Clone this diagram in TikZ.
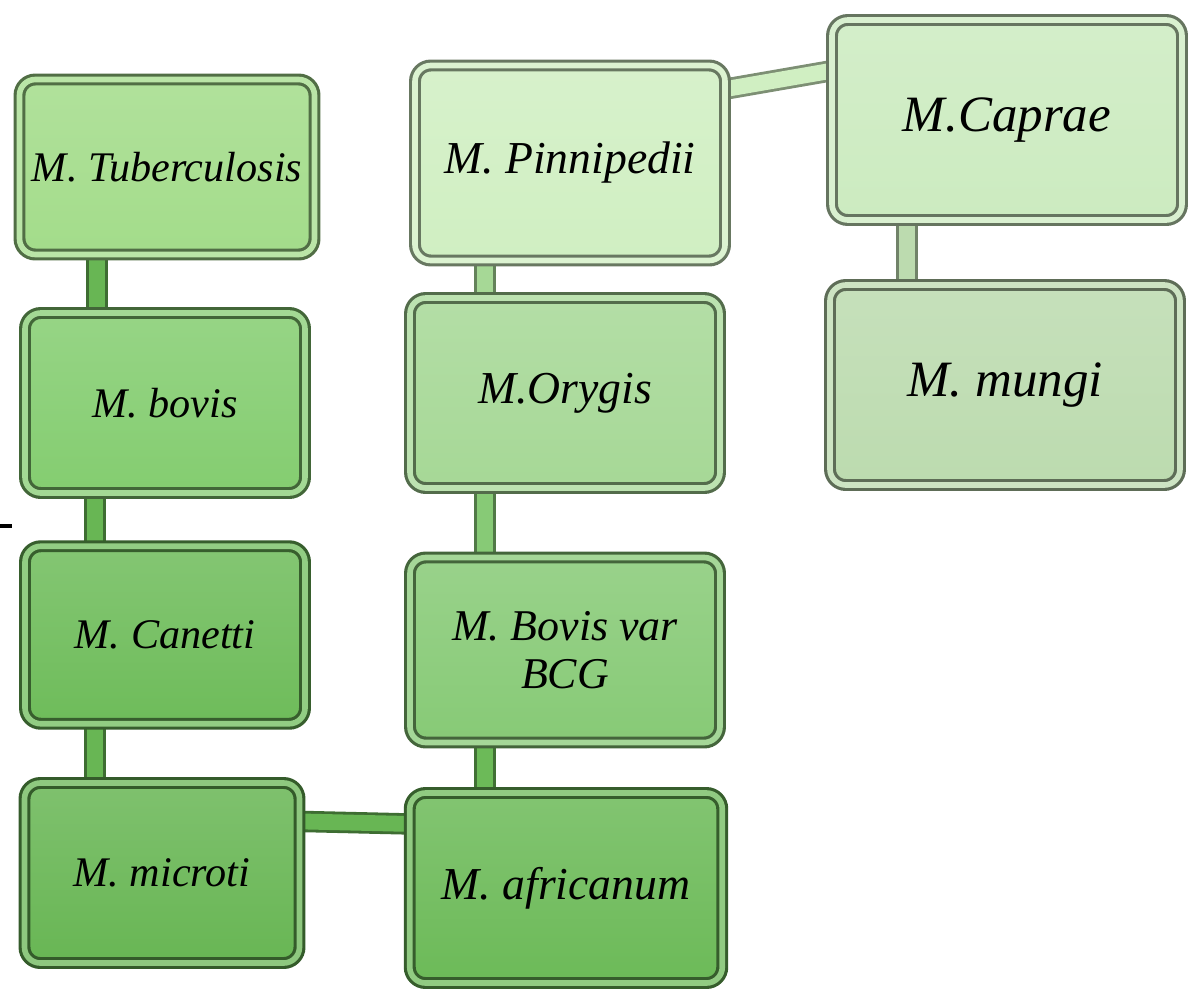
\documentclass[tikz,border=0pt]{standalone}
\usepackage{fontspec}
\setmainfont{Liberation Serif}
\usetikzlibrary{backgrounds}

\definecolor{tbgreen}{HTML}{A3DC8A}
\definecolor{bovgreen}{HTML}{84CD70}
\definecolor{cangreen}{HTML}{6EBC5A}
\definecolor{micgreen}{HTML}{68B654}
\definecolor{pingreen}{HTML}{D0EFC2}
\definecolor{orygreen}{HTML}{A6D896}
\definecolor{bcggreen}{HTML}{87CA76}
\definecolor{afrgreen}{HTML}{6CBA58}
\definecolor{capgreen}{HTML}{CCEBC0}
\definecolor{mungreen}{HTML}{BCDBAF}

\begin{document}
\begin{tikzpicture}[
	species/.style = {rectangle, rounded corners=9pt, align=center, inner sep=4pt,
		font=\fontsize{24}{28}\selectfont\itshape, line width=1.8pt, double distance=3.2pt},
	tone/.style = {top color=#1!85, bottom color=#1, draw=#1!50!black, double=#1!75!white},
	link/.style = {line width=1.6pt, double distance=9pt, draw=#1!60!black, double=#1},
]
\useasboundingbox (0,0) rectangle (23.82,-19.86);

% left column
\node[species, tone=tbgreen, minimum width=5.9cm, minimum height=3.5cm] (tb) at (3.34,-3.34) {M. Tuberculosis};
\node[species, tone=bovgreen, minimum width=5.6cm, minimum height=3.6cm] (bov) at (3.30,-8.06) {M. bovis};
\node[species, tone=cangreen, minimum width=5.6cm, minimum height=3.55cm] (can) at (3.30,-12.70) {M. Canetti};
\node[species, tone=micgreen, minimum width=5.5cm, minimum height=3.6cm] (mic) at (3.24,-17.46) {M. microti};

% middle column
\node[species, tone=pingreen, minimum width=6.2cm, minimum height=3.9cm,
	font=\fontsize{26}{30}\selectfont\itshape] (pin) at (11.40,-3.26) {M. Pinnipedii};
\node[species, tone=orygreen, minimum width=6.2cm, minimum height=3.8cm,
	font=\fontsize{26}{30}\selectfont\itshape] (ory) at (11.30,-7.86) {M.Orygis};
\node[species, tone=bcggreen, minimum width=6.2cm, minimum height=3.7cm,
	font=\fontsize{25}{27}\selectfont\itshape] (bcg) at (11.30,-13.00) {M. Bovis var\\BCG};
\node[species, tone=afrgreen, minimum width=6.25cm, minimum height=3.8cm,
	font=\fontsize{26}{30}\selectfont\itshape] (afr) at (11.32,-17.76) {M. africanum};

% right column
\node[species, tone=capgreen, minimum width=7.0cm, minimum height=4.0cm,
	font=\fontsize{29}{33}\selectfont\itshape] (cap) at (20.14,-2.40) {M.Caprae};
\node[species, tone=mungreen, minimum width=7.0cm, minimum height=4.0cm,
	font=\fontsize{29}{33}\selectfont\itshape] (mun) at (20.10,-7.70) {M. mungi};

\begin{scope}[on background layer]
\draw[link=micgreen] ([xshift=-1.4cm]tb.south) -- ([xshift=-1.4cm]tb.south |- bov.north);
\draw[link=micgreen] ([xshift=-1.4cm]bov.south) -- ([xshift=-1.4cm]bov.south |- can.north);
\draw[link=micgreen] ([xshift=-1.4cm]can.south) -- ([xshift=-1.4cm]can.south |- mic.north);
\draw[link=orygreen] ([xshift=-1.7cm]pin.south) -- ([xshift=-1.7cm]pin.south |- ory.north);
\draw[link=bcggreen] ([xshift=-1.6cm]ory.south) -- ([xshift=-1.6cm]ory.south |- bcg.north);
\draw[link=afrgreen] ([xshift=-1.6cm]bcg.south) -- ([xshift=-1.6cm]bcg.south |- afr.north);
\draw[link=mungreen] ([xshift=-2.0cm]cap.south) -- ([xshift=-2.0cm]cap.south |- mun.north);
\draw[link=pingreen] ([yshift=-0.5cm]pin.north east) -- ([yshift=-1.05cm]cap.north west);
\draw[link=micgreen] ([yshift=-0.8cm]mic.north east) -- ([yshift=-0.65cm]afr.north west);
\end{scope}

\draw[line width=2.5pt] (0,-10.52) -- (0.24,-10.52);
\end{tikzpicture}
\end{document}
